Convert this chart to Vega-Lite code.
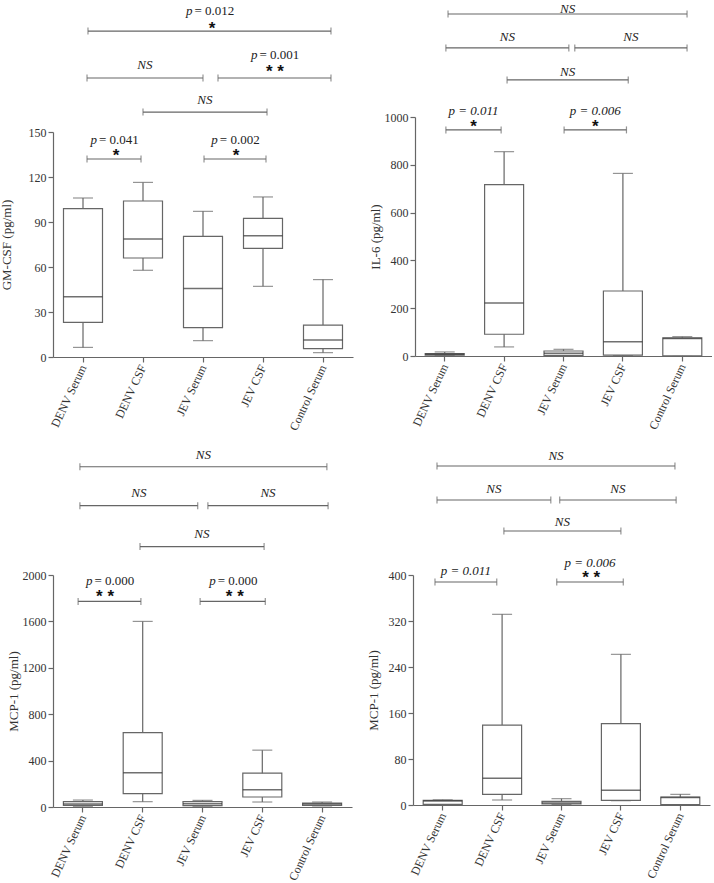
{
"$schema": "https://vega.github.io/schema/vega-lite/v6.json",
"background": "white",
"padding": {"left": 0, "top": 2, "right": 0, "bottom": 0},
"datasets": {
"gm": [
{"group":"DENV Serum","min":6.4,"q1":23.1,"med":40.2,"q3":98.9,"max":106},
{"group":"DENV CSF","min":57.8,"q1":66,"med":78.7,"q3":104,"max":116.4},
{"group":"JEV Serum","min":10.9,"q1":19.6,"med":45.6,"q3":80.4,"max":97.1},
{"group":"JEV CSF","min":47.1,"q1":72.4,"med":80.9,"q3":92.4,"max":106.7},
{"group":"Control Serum","min":2.9,"q1":5.6,"med":11.3,"q3":21.3,"max":51.6}],
"il6": [
{"group":"DENV Serum","min":2,"q1":4,"med":7,"q3":10,"max":17},
{"group":"DENV CSF","min":38,"q1":91,"med":222,"q3":717,"max":855},
{"group":"JEV Serum","min":1,"q1":3,"med":11,"q3":21,"max":28},
{"group":"JEV CSF","min":2,"q1":4,"med":60,"q3":272,"max":764},
{"group":"Control Serum","min":0,"q1":1,"med":73,"q3":76,"max":81}],
"mcpa": [
{"group":"DENV Serum","min":6,"q1":14,"med":26,"q3":46,"max":60},
{"group":"DENV CSF","min":46,"q1":115,"med":295,"q3":642,"max":1600},
{"group":"JEV Serum","min":6,"q1":11,"med":29,"q3":46,"max":57},
{"group":"JEV CSF","min":43,"q1":86,"med":149,"q3":292,"max":490},
{"group":"Control Serum","min":9,"q1":14,"med":26,"q3":34,"max":43}],
"mcpb": [
{"group":"DENV Serum","min":0.5,"q1":1,"med":7,"q3":8,"max":9},
{"group":"DENV CSF","min":8.7,"q1":18.5,"med":46.4,"q3":139,"max":331.6},
{"group":"JEV Serum","min":1,"q1":1.7,"med":3.5,"q3":6.4,"max":11},
{"group":"JEV CSF","min":7.5,"q1":8.1,"med":25.5,"q3":141.4,"max":262},
{"group":"Control Serum","min":0,"q1":0.5,"med":13,"q3":13.9,"max":18.5}],
"b1": [
{"x1":0.083,"x2":4.133,"y":217.3},
{"x1":0.067,"x2":2.0,"y":186},
{"x1":2.25,"x2":4.133,"y":186},
{"x1":1.0,"x2":3.067,"y":163.3},
{"x1":0.067,"x2":0.967,"y":132},
{"x1":2.017,"x2":3.05,"y":132}],
"l1": [
{"x":2.108,"y":230.7,"t":"= 0.012","k":"pn"},
{"x":2.15,"y":221.3,"t":"*","k":"st"},
{"x":1.03,"y":194.7,"t":"NS","k":"it"},
{"x":3.19,"y":201.3,"t":"= 0.001","k":"pn"},
{"x":3.2,"y":192.7,"t":"* *","k":"st"},
{"x":2.03,"y":171.3,"t":"NS","k":"it"},
{"x":0.517,"y":144.7,"t":"= 0.041","k":"pn"},
{"x":0.55,"y":136.7,"t":"*","k":"st"},
{"x":2.53,"y":144.7,"t":"= 0.002","k":"pn"},
{"x":2.55,"y":136.7,"t":"*","k":"st"}],
"b2": [
{"x1":0.056,"x2":4.08,"y":1431},
{"x1":0.02,"x2":2.09,"y":1289},
{"x1":2.19,"x2":4.08,"y":1289},
{"x1":1.05,"x2":3.09,"y":1155},
{"x1":0.02,"x2":0.95,"y":946},
{"x1":2.01,"x2":3.06,"y":946}],
"l2": [
{"x":2.07,"y":1452,"t":"NS","k":"it"},
{"x":1.055,"y":1335,"t":"NS","k":"it"},
{"x":3.135,"y":1335,"t":"NS","k":"it"},
{"x":2.07,"y":1188,"t":"NS","k":"it"},
{"x":0.485,"y":1025,"t":"p = 0.011","k":"it"},
{"x":0.485,"y":975,"t":"*","k":"st"},
{"x":2.535,"y":1025,"t":"p = 0.006","k":"it"},
{"x":2.535,"y":975,"t":"*","k":"st"}],
"b3": [
{"x1":-0.05,"x2":4.08,"y":2933},
{"x1":-0.05,"x2":1.92,"y":2598},
{"x1":2.09,"x2":4.1,"y":2598},
{"x1":0.955,"x2":3.03,"y":2245},
{"x1":-0.08,"x2":0.97,"y":1772},
{"x1":1.96,"x2":3.05,"y":1772}],
"l3": [
{"x":2.015,"y":3037,"t":"NS","k":"it"},
{"x":0.935,"y":2710,"t":"NS","k":"it"},
{"x":3.095,"y":2710,"t":"NS","k":"it"},
{"x":1.99,"y":2357,"t":"NS","k":"it"},
{"x":0.445,"y":1944,"t":"= 0.000","k":"pn"},
{"x":0.37,"y":1841,"t":"* *","k":"st"},
{"x":2.505,"y":1944,"t":"= 0.000","k":"pn"},
{"x":2.54,"y":1841,"t":"* *","k":"st"}],
"b4": [
{"x1":-0.096,"x2":3.91,"y":589.6},
{"x1":-0.096,"x2":1.82,"y":530.4},
{"x1":1.97,"x2":3.93,"y":530.4},
{"x1":1.03,"x2":3.0,"y":476.5},
{"x1":-0.13,"x2":0.91,"y":387.8},
{"x1":1.92,"x2":3.04,"y":387.8}],
"l4": [
{"x":1.907,"y":607,"t":"NS","k":"it"},
{"x":0.862,"y":549.6,"t":"NS","k":"it"},
{"x":2.95,"y":549.6,"t":"NS","k":"it"},
{"x":2.015,"y":492.2,"t":"NS","k":"it"},
{"x":0.39,"y":407,"t":"p = 0.011","k":"it"},
{"x":2.48,"y":420.9,"t":"p = 0.006","k":"it"},
{"x":2.5,"y":401,"t":"* *","k":"st"}]
},
"spacing": 16,
"vconcat": [
{"spacing": 16, "hconcat": [
{"width": 300, "height": 240, "resolve": {"scale": {"x": "independent"}},
 "layer": [
  {"data": {"name": "gm"}, "layer": [
   {"mark": {"type":"rule","color":"#666","strokeWidth":1.2},
    "encoding": {"x": {"field":"group","type":"nominal","sort":["DENV Serum","DENV CSF","JEV Serum","JEV CSF","Control Serum"],"scale":{"type":"band","paddingInner":0,"paddingOuter":0},"title":null},
     "y": {"field":"min","type":"quantitative","title":"GM-CSF (pg/ml)","scale":{"domain":[0,150],"nice":false,"range":[240,15]},"axis":{"values":[0,30,60,90,120,150],"titlePadding":15,"format":"d"}},
     "y2": {"field":"max"}}},
   {"mark": {"type":"tick","orient":"horizontal","size":20,"thickness":1.2,"color":"#666"},
    "encoding": {"x": {"field":"group","type":"nominal","sort":["DENV Serum","DENV CSF","JEV Serum","JEV CSF","Control Serum"],"scale":{"type":"band","paddingInner":0,"paddingOuter":0},"title":null},
     "y": {"field":"max","type":"quantitative","title":"GM-CSF (pg/ml)","scale":{"domain":[0,150],"nice":false,"range":[240,15]}}}},
   {"mark": {"type":"tick","orient":"horizontal","size":20,"thickness":1.2,"color":"#666"},
    "encoding": {"x": {"field":"group","type":"nominal","sort":["DENV Serum","DENV CSF","JEV Serum","JEV CSF","Control Serum"],"scale":{"type":"band","paddingInner":0,"paddingOuter":0},"title":null},
     "y": {"field":"min","type":"quantitative","title":"GM-CSF (pg/ml)","scale":{"domain":[0,150],"nice":false,"range":[240,15]}}}},
   {"mark": {"type":"bar","size":39,"fill":"white","stroke":"#666","strokeWidth":1.2},
    "encoding": {"x": {"field":"group","type":"nominal","sort":["DENV Serum","DENV CSF","JEV Serum","JEV CSF","Control Serum"],"scale":{"type":"band","paddingInner":0,"paddingOuter":0},"title":null},
     "y": {"field":"q1","type":"quantitative","title":"GM-CSF (pg/ml)","scale":{"domain":[0,150],"nice":false,"range":[240,15]}},
     "y2": {"field":"q3"}}},
   {"mark": {"type":"tick","orient":"horizontal","size":39,"thickness":1.5,"color":"#333"},
    "encoding": {"x": {"field":"group","type":"nominal","sort":["DENV Serum","DENV CSF","JEV Serum","JEV CSF","Control Serum"],"scale":{"type":"band","paddingInner":0,"paddingOuter":0},"title":null},
     "y": {"field":"med","type":"quantitative","title":"GM-CSF (pg/ml)","scale":{"domain":[0,150],"nice":false,"range":[240,15]}}}}
  ]},
  {"layer": [
   {"data": {"name":"b1"}, "mark": {"type":"rule","color":"#666","strokeWidth":1.2},
    "encoding": {"x": {"field":"x1","type":"quantitative","axis":null,"scale":{"domain":[-0.5,4.5],"nice":false,"zero":false}}, "x2": {"field":"x2"},
     "y": {"field":"y","type":"quantitative","title":"GM-CSF (pg/ml)","scale":{"domain":[0,150],"nice":false,"range":[240,15]}}}},
   {"data": {"name":"b1"}, "transform": [{"fold":["x1","x2"],"as":["end","xe"]}],
    "mark": {"type":"tick","orient":"vertical","size":7,"thickness":1.2,"color":"#666"},
    "encoding": {"x": {"field":"xe","type":"quantitative","axis":null,"scale":{"domain":[-0.5,4.5],"nice":false,"zero":false}},
     "y": {"field":"y","type":"quantitative","title":"GM-CSF (pg/ml)","scale":{"domain":[0,150],"nice":false,"range":[240,15]}}}},
   {"data": {"name":"l1"}, "transform": [{"filter":"datum.k == 'it'"}],
    "mark": {"type":"text","font":"Liberation Serif","fontStyle":"italic","fontSize":13,"color":"#222","baseline":"middle","align":"center"},
    "encoding": {"x": {"field":"x","type":"quantitative","axis":null,"scale":{"domain":[-0.5,4.5],"nice":false,"zero":false}},
     "y": {"field":"y","type":"quantitative","title":"GM-CSF (pg/ml)","scale":{"domain":[0,150],"nice":false,"range":[240,15]}}, "text": {"field":"t"}}},
   {"data": {"name":"l1"}, "transform": [{"filter":"datum.k == 'pn'"}],
    "mark": {"type":"text","font":"Liberation Serif","fontStyle":"italic","fontSize":13,"color":"#222","baseline":"middle","align":"right","dx":-17},
    "encoding": {"x": {"field":"x","type":"quantitative","axis":null,"scale":{"domain":[-0.5,4.5],"nice":false,"zero":false}},
     "y": {"field":"y","type":"quantitative","title":"GM-CSF (pg/ml)","scale":{"domain":[0,150],"nice":false,"range":[240,15]}}, "text": {"value":"p"}}},
   {"data": {"name":"l1"}, "transform": [{"filter":"datum.k == 'pn'"}],
    "mark": {"type":"text","font":"Liberation Serif","fontSize":13,"color":"#222","baseline":"middle","align":"left","dx":-15},
    "encoding": {"x": {"field":"x","type":"quantitative","axis":null,"scale":{"domain":[-0.5,4.5],"nice":false,"zero":false}},
     "y": {"field":"y","type":"quantitative","title":"GM-CSF (pg/ml)","scale":{"domain":[0,150],"nice":false,"range":[240,15]}}, "text": {"field":"t"}}},
   {"data": {"name":"l1"}, "transform": [{"filter":"datum.k == 'st'"}],
    "mark": {"type":"text","font":"Liberation Sans","fontWeight":"bold","fontSize":17,"color":"#111","baseline":"middle","align":"center","dy":4},
    "encoding": {"x": {"field":"x","type":"quantitative","axis":null,"scale":{"domain":[-0.5,4.5],"nice":false,"zero":false}},
     "y": {"field":"y","type":"quantitative","title":"GM-CSF (pg/ml)","scale":{"domain":[0,150],"nice":false,"range":[240,15]}}, "text": {"field":"t"}}}
  ]}
 ]},
{"width": 297, "height": 239, "resolve": {"scale": {"x": "independent"}},
 "layer": [
  {"data": {"name": "il6"}, "layer": [
   {"mark": {"type":"rule","color":"#666","strokeWidth":1.2},
    "encoding": {"x": {"field":"group","type":"nominal","sort":["DENV Serum","DENV CSF","JEV Serum","JEV CSF","Control Serum"],"scale":{"type":"band","paddingInner":0,"paddingOuter":0},"title":null},
     "y": {"field":"min","type":"quantitative","title":"IL-6 (pg/ml)","scale":{"domain":[0,1000],"nice":false},"axis":{"values":[0,200,400,600,800,1000],"titlePadding":2,"format":"d"}},
     "y2": {"field":"max"}}},
   {"mark": {"type":"tick","orient":"horizontal","size":20,"thickness":1.2,"color":"#666"},
    "encoding": {"x": {"field":"group","type":"nominal","sort":["DENV Serum","DENV CSF","JEV Serum","JEV CSF","Control Serum"],"scale":{"type":"band","paddingInner":0,"paddingOuter":0},"title":null},
     "y": {"field":"max","type":"quantitative","title":"IL-6 (pg/ml)","scale":{"domain":[0,1000],"nice":false}}}},
   {"mark": {"type":"tick","orient":"horizontal","size":20,"thickness":1.2,"color":"#666"},
    "encoding": {"x": {"field":"group","type":"nominal","sort":["DENV Serum","DENV CSF","JEV Serum","JEV CSF","Control Serum"],"scale":{"type":"band","paddingInner":0,"paddingOuter":0},"title":null},
     "y": {"field":"min","type":"quantitative","title":"IL-6 (pg/ml)","scale":{"domain":[0,1000],"nice":false}}}},
   {"mark": {"type":"bar","size":39,"fill":"white","stroke":"#666","strokeWidth":1.2},
    "encoding": {"x": {"field":"group","type":"nominal","sort":["DENV Serum","DENV CSF","JEV Serum","JEV CSF","Control Serum"],"scale":{"type":"band","paddingInner":0,"paddingOuter":0},"title":null},
     "y": {"field":"q1","type":"quantitative","title":"IL-6 (pg/ml)","scale":{"domain":[0,1000],"nice":false}},
     "y2": {"field":"q3"}}},
   {"mark": {"type":"tick","orient":"horizontal","size":39,"thickness":1.5,"color":"#333"},
    "encoding": {"x": {"field":"group","type":"nominal","sort":["DENV Serum","DENV CSF","JEV Serum","JEV CSF","Control Serum"],"scale":{"type":"band","paddingInner":0,"paddingOuter":0},"title":null},
     "y": {"field":"med","type":"quantitative","title":"IL-6 (pg/ml)","scale":{"domain":[0,1000],"nice":false}}}}
  ]},
  {"layer": [
   {"data": {"name":"b2"}, "mark": {"type":"rule","color":"#666","strokeWidth":1.2},
    "encoding": {"x": {"field":"x1","type":"quantitative","axis":null,"scale":{"domain":[-0.5,4.5],"nice":false,"zero":false}}, "x2": {"field":"x2"},
     "y": {"field":"y","type":"quantitative","title":"IL-6 (pg/ml)","scale":{"domain":[0,1000],"nice":false}}}},
   {"data": {"name":"b2"}, "transform": [{"fold":["x1","x2"],"as":["end","xe"]}],
    "mark": {"type":"tick","orient":"vertical","size":7,"thickness":1.2,"color":"#666"},
    "encoding": {"x": {"field":"xe","type":"quantitative","axis":null,"scale":{"domain":[-0.5,4.5],"nice":false,"zero":false}},
     "y": {"field":"y","type":"quantitative","title":"IL-6 (pg/ml)","scale":{"domain":[0,1000],"nice":false}}}},
   {"data": {"name":"l2"}, "transform": [{"filter":"datum.k == 'it'"}],
    "mark": {"type":"text","font":"Liberation Serif","fontStyle":"italic","fontSize":13,"color":"#222","baseline":"middle","align":"center"},
    "encoding": {"x": {"field":"x","type":"quantitative","axis":null,"scale":{"domain":[-0.5,4.5],"nice":false,"zero":false}},
     "y": {"field":"y","type":"quantitative","title":"IL-6 (pg/ml)","scale":{"domain":[0,1000],"nice":false}}, "text": {"field":"t"}}},
   {"data": {"name":"l2"}, "transform": [{"filter":"datum.k == 'st'"}],
    "mark": {"type":"text","font":"Liberation Sans","fontWeight":"bold","fontSize":17,"color":"#111","baseline":"middle","align":"center","dy":4},
    "encoding": {"x": {"field":"x","type":"quantitative","axis":null,"scale":{"domain":[-0.5,4.5],"nice":false,"zero":false}},
     "y": {"field":"y","type":"quantitative","title":"IL-6 (pg/ml)","scale":{"domain":[0,1000],"nice":false}}, "text": {"field":"t"}}}
  ]}
 ]}
]},
{"spacing": 15, "hconcat": [
{"width": 299, "height": 232, "resolve": {"scale": {"x": "independent"}},
 "layer": [
  {"data": {"name": "mcpa"}, "layer": [
   {"mark": {"type":"rule","color":"#666","strokeWidth":1.2},
    "encoding": {"x": {"field":"group","type":"nominal","sort":["DENV Serum","DENV CSF","JEV Serum","JEV CSF","Control Serum"],"scale":{"type":"band","paddingInner":0,"paddingOuter":0},"title":null},
     "y": {"field":"min","type":"quantitative","title":"MCP-1 (pg/ml)","scale":{"domain":[0,2000],"nice":false},"axis":{"values":[0,400,800,1200,1600,2000],"titlePadding":2,"format":"d"}},
     "y2": {"field":"max"}}},
   {"mark": {"type":"tick","orient":"horizontal","size":20,"thickness":1.2,"color":"#666"},
    "encoding": {"x": {"field":"group","type":"nominal","sort":["DENV Serum","DENV CSF","JEV Serum","JEV CSF","Control Serum"],"scale":{"type":"band","paddingInner":0,"paddingOuter":0},"title":null},
     "y": {"field":"max","type":"quantitative","title":"MCP-1 (pg/ml)","scale":{"domain":[0,2000],"nice":false}}}},
   {"mark": {"type":"tick","orient":"horizontal","size":20,"thickness":1.2,"color":"#666"},
    "encoding": {"x": {"field":"group","type":"nominal","sort":["DENV Serum","DENV CSF","JEV Serum","JEV CSF","Control Serum"],"scale":{"type":"band","paddingInner":0,"paddingOuter":0},"title":null},
     "y": {"field":"min","type":"quantitative","title":"MCP-1 (pg/ml)","scale":{"domain":[0,2000],"nice":false}}}},
   {"mark": {"type":"bar","size":39,"fill":"white","stroke":"#666","strokeWidth":1.2},
    "encoding": {"x": {"field":"group","type":"nominal","sort":["DENV Serum","DENV CSF","JEV Serum","JEV CSF","Control Serum"],"scale":{"type":"band","paddingInner":0,"paddingOuter":0},"title":null},
     "y": {"field":"q1","type":"quantitative","title":"MCP-1 (pg/ml)","scale":{"domain":[0,2000],"nice":false}},
     "y2": {"field":"q3"}}},
   {"mark": {"type":"tick","orient":"horizontal","size":39,"thickness":1.5,"color":"#333"},
    "encoding": {"x": {"field":"group","type":"nominal","sort":["DENV Serum","DENV CSF","JEV Serum","JEV CSF","Control Serum"],"scale":{"type":"band","paddingInner":0,"paddingOuter":0},"title":null},
     "y": {"field":"med","type":"quantitative","title":"MCP-1 (pg/ml)","scale":{"domain":[0,2000],"nice":false}}}}
  ]},
  {"layer": [
   {"data": {"name":"b3"}, "mark": {"type":"rule","color":"#666","strokeWidth":1.2},
    "encoding": {"x": {"field":"x1","type":"quantitative","axis":null,"scale":{"domain":[-0.5,4.5],"nice":false,"zero":false}}, "x2": {"field":"x2"},
     "y": {"field":"y","type":"quantitative","title":"MCP-1 (pg/ml)","scale":{"domain":[0,2000],"nice":false}}}},
   {"data": {"name":"b3"}, "transform": [{"fold":["x1","x2"],"as":["end","xe"]}],
    "mark": {"type":"tick","orient":"vertical","size":7,"thickness":1.2,"color":"#666"},
    "encoding": {"x": {"field":"xe","type":"quantitative","axis":null,"scale":{"domain":[-0.5,4.5],"nice":false,"zero":false}},
     "y": {"field":"y","type":"quantitative","title":"MCP-1 (pg/ml)","scale":{"domain":[0,2000],"nice":false}}}},
   {"data": {"name":"l3"}, "transform": [{"filter":"datum.k == 'it'"}],
    "mark": {"type":"text","font":"Liberation Serif","fontStyle":"italic","fontSize":13,"color":"#222","baseline":"middle","align":"center"},
    "encoding": {"x": {"field":"x","type":"quantitative","axis":null,"scale":{"domain":[-0.5,4.5],"nice":false,"zero":false}},
     "y": {"field":"y","type":"quantitative","title":"MCP-1 (pg/ml)","scale":{"domain":[0,2000],"nice":false}}, "text": {"field":"t"}}},
   {"data": {"name":"l3"}, "transform": [{"filter":"datum.k == 'pn'"}],
    "mark": {"type":"text","font":"Liberation Serif","fontStyle":"italic","fontSize":13,"color":"#222","baseline":"middle","align":"right","dx":-17},
    "encoding": {"x": {"field":"x","type":"quantitative","axis":null,"scale":{"domain":[-0.5,4.5],"nice":false,"zero":false}},
     "y": {"field":"y","type":"quantitative","title":"MCP-1 (pg/ml)","scale":{"domain":[0,2000],"nice":false}}, "text": {"value":"p"}}},
   {"data": {"name":"l3"}, "transform": [{"filter":"datum.k == 'pn'"}],
    "mark": {"type":"text","font":"Liberation Serif","fontSize":13,"color":"#222","baseline":"middle","align":"left","dx":-15},
    "encoding": {"x": {"field":"x","type":"quantitative","axis":null,"scale":{"domain":[-0.5,4.5],"nice":false,"zero":false}},
     "y": {"field":"y","type":"quantitative","title":"MCP-1 (pg/ml)","scale":{"domain":[0,2000],"nice":false}}, "text": {"field":"t"}}},
   {"data": {"name":"l3"}, "transform": [{"filter":"datum.k == 'st'"}],
    "mark": {"type":"text","font":"Liberation Sans","fontWeight":"bold","fontSize":17,"color":"#111","baseline":"middle","align":"center","dy":4},
    "encoding": {"x": {"field":"x","type":"quantitative","axis":null,"scale":{"domain":[-0.5,4.5],"nice":false,"zero":false}},
     "y": {"field":"y","type":"quantitative","title":"MCP-1 (pg/ml)","scale":{"domain":[0,2000],"nice":false}}, "text": {"field":"t"}}}
  ]}
 ]},
{"width": 297, "height": 230, "resolve": {"scale": {"x": "independent"}},
 "layer": [
  {"data": {"name": "mcpb"}, "layer": [
   {"mark": {"type":"rule","color":"#666","strokeWidth":1.2},
    "encoding": {"x": {"field":"group","type":"nominal","sort":["DENV Serum","DENV CSF","JEV Serum","JEV CSF","Control Serum"],"scale":{"type":"band","paddingInner":0,"paddingOuter":0},"title":null},
     "y": {"field":"min","type":"quantitative","title":"MCP-1 (pg/ml)","scale":{"domain":[0,400],"nice":false},"axis":{"values":[0,80,160,240,320,400],"titlePadding":8,"format":"d"}},
     "y2": {"field":"max"}}},
   {"mark": {"type":"tick","orient":"horizontal","size":20,"thickness":1.2,"color":"#666"},
    "encoding": {"x": {"field":"group","type":"nominal","sort":["DENV Serum","DENV CSF","JEV Serum","JEV CSF","Control Serum"],"scale":{"type":"band","paddingInner":0,"paddingOuter":0},"title":null},
     "y": {"field":"max","type":"quantitative","title":"MCP-1 (pg/ml)","scale":{"domain":[0,400],"nice":false}}}},
   {"mark": {"type":"tick","orient":"horizontal","size":20,"thickness":1.2,"color":"#666"},
    "encoding": {"x": {"field":"group","type":"nominal","sort":["DENV Serum","DENV CSF","JEV Serum","JEV CSF","Control Serum"],"scale":{"type":"band","paddingInner":0,"paddingOuter":0},"title":null},
     "y": {"field":"min","type":"quantitative","title":"MCP-1 (pg/ml)","scale":{"domain":[0,400],"nice":false}}}},
   {"mark": {"type":"bar","size":39,"fill":"white","stroke":"#666","strokeWidth":1.2},
    "encoding": {"x": {"field":"group","type":"nominal","sort":["DENV Serum","DENV CSF","JEV Serum","JEV CSF","Control Serum"],"scale":{"type":"band","paddingInner":0,"paddingOuter":0},"title":null},
     "y": {"field":"q1","type":"quantitative","title":"MCP-1 (pg/ml)","scale":{"domain":[0,400],"nice":false}},
     "y2": {"field":"q3"}}},
   {"mark": {"type":"tick","orient":"horizontal","size":39,"thickness":1.5,"color":"#333"},
    "encoding": {"x": {"field":"group","type":"nominal","sort":["DENV Serum","DENV CSF","JEV Serum","JEV CSF","Control Serum"],"scale":{"type":"band","paddingInner":0,"paddingOuter":0},"title":null},
     "y": {"field":"med","type":"quantitative","title":"MCP-1 (pg/ml)","scale":{"domain":[0,400],"nice":false}}}}
  ]},
  {"layer": [
   {"data": {"name":"b4"}, "mark": {"type":"rule","color":"#666","strokeWidth":1.2},
    "encoding": {"x": {"field":"x1","type":"quantitative","axis":null,"scale":{"domain":[-0.5,4.5],"nice":false,"zero":false}}, "x2": {"field":"x2"},
     "y": {"field":"y","type":"quantitative","title":"MCP-1 (pg/ml)","scale":{"domain":[0,400],"nice":false}}}},
   {"data": {"name":"b4"}, "transform": [{"fold":["x1","x2"],"as":["end","xe"]}],
    "mark": {"type":"tick","orient":"vertical","size":7,"thickness":1.2,"color":"#666"},
    "encoding": {"x": {"field":"xe","type":"quantitative","axis":null,"scale":{"domain":[-0.5,4.5],"nice":false,"zero":false}},
     "y": {"field":"y","type":"quantitative","title":"MCP-1 (pg/ml)","scale":{"domain":[0,400],"nice":false}}}},
   {"data": {"name":"l4"}, "transform": [{"filter":"datum.k == 'it'"}],
    "mark": {"type":"text","font":"Liberation Serif","fontStyle":"italic","fontSize":13,"color":"#222","baseline":"middle","align":"center"},
    "encoding": {"x": {"field":"x","type":"quantitative","axis":null,"scale":{"domain":[-0.5,4.5],"nice":false,"zero":false}},
     "y": {"field":"y","type":"quantitative","title":"MCP-1 (pg/ml)","scale":{"domain":[0,400],"nice":false}}, "text": {"field":"t"}}},
   {"data": {"name":"l4"}, "transform": [{"filter":"datum.k == 'st'"}],
    "mark": {"type":"text","font":"Liberation Sans","fontWeight":"bold","fontSize":17,"color":"#111","baseline":"middle","align":"center","dy":4},
    "encoding": {"x": {"field":"x","type":"quantitative","axis":null,"scale":{"domain":[-0.5,4.5],"nice":false,"zero":false}},
     "y": {"field":"y","type":"quantitative","title":"MCP-1 (pg/ml)","scale":{"domain":[0,400],"nice":false}}, "text": {"field":"t"}}}
  ]}
 ]}
]}
],
"config": {
 "view": {"stroke": null},
 "font": "Liberation Serif",
 "axis": {"labelFont": "Liberation Serif", "labelFontSize": 12, "labelColor": "#333", "titleFont": "Liberation Serif", "titleFontSize": 13, "titleFontWeight": "normal", "titleColor": "#333", "domainColor": "#666", "tickColor": "#666", "grid": false, "tickSize": 5, "domainWidth": 1.2, "tickWidth": 1.2},
 "axisX": {"labelAngle": -65, "labelAlign": "right", "labelBaseline": "middle", "labelPadding": 3},
 "axisY": {"labelPadding": 2}
}
}
